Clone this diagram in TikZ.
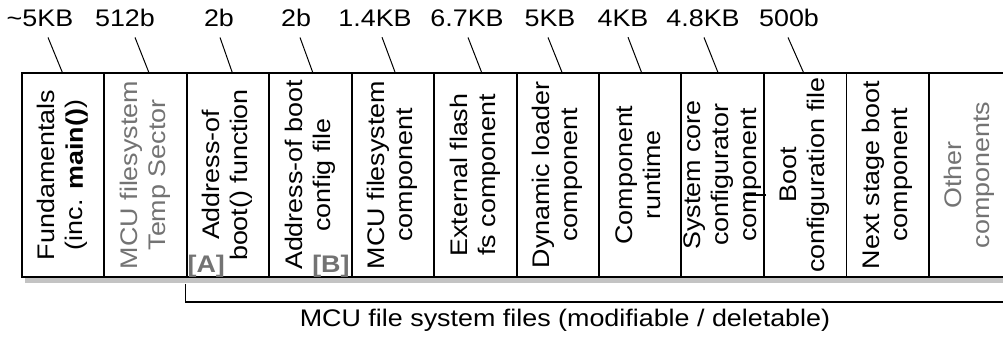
\documentclass[tikz,border=0pt]{standalone}
\usepackage{fontspec}
\setmainfont{Liberation Sans}
\usepackage{graphicx}
\usetikzlibrary{calc}
\definecolor{MidGrey}{RGB}{115,115,115}
\definecolor{ShadowGrey}{RGB}{195,195,195}
\newcommand{\wtext}[1]{\scalebox{1.12}[1]{#1}}
\newcommand{\vtext}[1]{\rotatebox{90}{\wtext{\begin{tabular}{@{}c@{}}#1\end{tabular}}}}
\tikzset{
  cell/.style={draw,line width=1.9pt,fill=white,minimum width=82.45pt,
    minimum height=204pt,inner sep=0pt,font=\fontsize{24}{28}\selectfont},
  faded/.style={cell,text=MidGrey},
  sizelabel/.style={anchor=base,inner xsep=0pt,inner ysep=10pt,
    font=\fontsize{24}{28}\selectfont},
  refmark/.style={inner sep=0pt,text=MidGrey,
    font=\fontsize{24}{28}\selectfont\bfseries},
  spantext/.style={anchor=base,inner sep=0pt,font=\fontsize{24}{28}\selectfont},
  leader/.style={line width=1pt},
  spanline/.style={line width=1.1pt}
}

\begin{document}
\begin{tikzpicture}[
  x=1pt,
  y=1pt
]
\useasboundingbox (0,0) rectangle (1003,338);
\clip (0,0) rectangle (1003,338);

% drop shadow of the memory map
\fill[ShadowGrey] (25,55) rectangle (1015,259);

% memory map
\node[cell] (c1) at (63.2,163) {\vtext{Fundamentals\\(inc. \textbf{main()})}};
\node[faded] (c2) at (145.7,163) {\vtext{MCU filesystem\\Temp Sector}};
\node[cell] (c3) at (228.1,163) {\vtext{Address-of\\boot() function}};
\node[cell] (c4) at (310.6,163) {\vtext{Address-of boot\\config file}};
\node[cell] (c5) at (393.0,163) {\vtext{MCU filesystem\\component}};
\node[cell] (c6) at (475.5,163) {\vtext{External flash\\fs component}};
\node[cell] (c7) at (557.9,163) {\vtext{Dynamic loader\\component}};
\node[cell] (c8) at (640.4,163) {\vtext{Component\\runtime}};
\node[cell] (c9) at (722.8,163) {\vtext{System core\\configurator\\component}};
\node[cell] (c10) at (805.3,163) {\vtext{Boot\\configuration file}};
\node[cell] (c11) at (887.7,163) {\vtext{Next stage boot\\component}};
\node[faded] (c12) at (970.2,163) {\vtext{Other\\components}};

\draw[spanline] ([yshift=-20pt]c9.east) -- ++(-20,0);

\node[refmark,anchor=south west] (ma) at ([xshift=1.5pt]c3.south west) {\wtext{[A]}};
\node[refmark,anchor=south east] (mb) at ([xshift=-3pt]c4.south east) {\wtext{[B]}};

% sizes
\node[sizelabel] (s1) at (40,311) {\wtext{\textasciitilde5KB}};
\node[sizelabel] (s2) at (125,311) {\wtext{512b}};
\node[sizelabel] (s3) at (219,311) {\wtext{2b}};
\node[sizelabel] (s4) at (296,311) {\wtext{2b}};
\node[sizelabel] (s5) at (375,311) {\wtext{1.4KB}};
\node[sizelabel] (s6) at (467,311) {\wtext{6.7KB}};
\node[sizelabel] (s7) at (550,311) {\wtext{5KB}};
\node[sizelabel] (s8) at (623,311) {\wtext{4KB}};
\node[sizelabel] (s9) at (703,311) {\wtext{4.8KB}};
\node[sizelabel] (s10) at (789,311) {\wtext{500b}};

\draw[leader] ([xshift=8pt]s1.south) -- ([xshift=-1pt]c1.north);
\draw[leader] ([xshift=10pt]s2.south) -- ([xshift=3pt]c2.north);
\draw[leader] ([xshift=1pt]s3.south) -- ([xshift=4pt]c3.north);
\draw[leader] ([xshift=4pt]s4.south) -- ([xshift=2pt]c4.north);
\draw[leader] ([xshift=7pt]s5.south) -- ([xshift=2pt]c5.north);
\draw[leader] ([xshift=1pt]s6.south) -- ([xshift=6pt]c6.north);
\draw[leader] ([xshift=-2pt]s7.south) -- ([xshift=4pt]c7.north);
\draw[leader] ([xshift=5pt]s8.south) -- ([xshift=1pt]c8.north);
\draw[leader] ([xshift=1pt]s9.south) -- ([xshift=-5pt]c9.north);
\draw[leader] ([xshift=-1pt]s10.south) -- ([xshift=-2pt]c10.north);

% modifiable part
\coordinate (spanend) at (1010,36);
\draw[spanline] ([yshift=-6pt]c3.south west) |- (spanend);
\node[spantext] (note) at (565,11.3) {\wtext{MCU file system files (modifiable / deletable)}};

\end{tikzpicture}
\end{document}
